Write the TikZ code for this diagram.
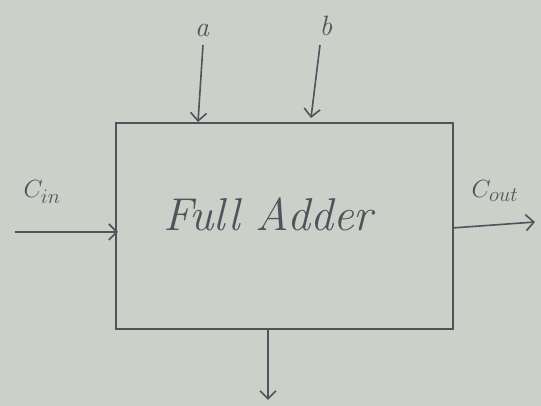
\documentclass[tikz,border=0pt]{standalone}
\usetikzlibrary{arrows.meta}
\definecolor{paper}{HTML}{CBD0C8}
\definecolor{ink}{HTML}{4E535C}
\begin{document}
\begin{tikzpicture}[x=1pt,y=1pt,
  line/.style={draw=ink,line width=1.6pt},
  arr/.style={line,-{Straight Barb[length=8pt,width=16pt,line width=1.6pt]}},
  lbl/.style={text=ink,font=\itshape\fontsize{28}{32}\selectfont,inner sep=0pt}]
\fill[paper] (0,0) rectangle (541,406);
\useasboundingbox (0,0) rectangle (541,406);
\node[line,minimum width=337pt,minimum height=206pt,inner sep=0pt,anchor=north west] (fa) at (115,284) {};
\node[text=ink,font=\itshape\fontsize{46}{50}\selectfont,inner sep=0pt] (fat) at (268,192) {Full Adder};
% free ends
\coordinate (aS) at (203,361);
\coordinate (aE) at (198,284);
\coordinate (bS) at (320,361);
\coordinate (bE) at (311,288);
\coordinate (cS) at (15,174);
\coordinate (cE) at (118,174);
\coordinate (oS) at (452,178);
\coordinate (oE) at (535,184);
\coordinate (dS) at (268,78);
\coordinate (dE) at (268,6);
\draw[arr] (aS) -- (aE);
\draw[arr] (bS) -- (bE);
\draw[arr] (cS) -- (cE);
\draw[arr] (oS) -- (oE);
\draw[arr] (dS) -- (dE);
\node[lbl] (la) at (202,376) {a};
\node[lbl] (lb) at (326,380) {b};
\node[lbl] (lc) at (42,214) {$C_{in}$};
\node[lbl] (lo) at (495,215) {$C_{out}$};
\end{tikzpicture}
\end{document}
